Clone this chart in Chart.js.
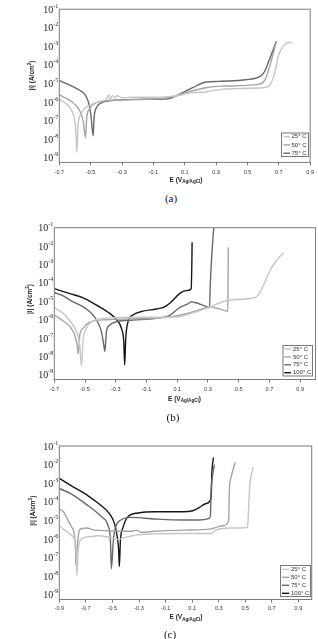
<!DOCTYPE html>
<html><head><meta charset="utf-8">
<script src="https://cdn.jsdelivr.net/npm/chart.js@4/dist/chart.umd.min.js"></script>
<style>
html,body{margin:0;padding:0;background:#fff}
body{width:318px;height:639px;overflow:hidden;position:relative}
canvas{position:absolute;left:0}
.cap{position:absolute;font-family:"Liberation Serif","Times New Roman",serif;font-size:11px;line-height:12px;color:#111;width:40px;text-align:center}
</style></head><body>
<canvas id="ca" width="318" height="192" style="top:0px;width:318px;height:192px"></canvas>
<canvas id="cb" width="318" height="192" style="top:215px;width:318px;height:192px"></canvas>
<canvas id="cc" width="318" height="195" style="top:430px;width:318px;height:195px"></canvas>
<div class="cap" style="left:151px;top:192px">(a)</div>
<div class="cap" style="left:153px;top:411px">(b)</div>
<div class="cap" style="left:150px;top:628px">(c)</div>
<script>
// ---------- DATA ----------
const tempLabels3 = ['25° C', '50° C', '75° C'];
const tempLabels4 = ['25° C', '50° C', '75° C', '100° C'];
const xTicksAB = [-0.7, -0.5, -0.3, -0.1, 0.1, 0.3, 0.5, 0.7, 0.9];
const xTicksC = [-0.9, -0.7, -0.5, -0.3, -0.1, 0.1, 0.3, 0.5, 0.7, 0.9];
const yTicks = [1e-1, 1e-2, 1e-3, 1e-4, 1e-5, 1e-6, 1e-7, 1e-8, 1e-9];

// (a)
const a25E = [-0.700,-0.664,-0.632,-0.611,-0.596,-0.588,-0.580,-0.563,-0.537,-0.495,-0.432,-0.400,-0.385,-0.375,-0.360,-0.345,-0.330,-0.300,-0.231,-0.104,-0.009,0.065,0.150,0.234,0.340,0.467,0.594,0.636,0.668,0.699,0.731,0.763,0.784];
const a25I = [1.45e-6,9.1e-7,5.0e-7,2.2e-7,4.2e-8,1.9e-9,6.3e-8,2.2e-7,4.6e-7,7.5e-7,1.1e-6,1.4e-6,2.4e-6,1.5e-6,2.3e-6,1.6e-6,2.2e-6,1.7e-6,1.8e-6,1.8e-6,1.95e-6,2.3e-6,3.2e-6,3.5e-6,4.8e-6,5.4e-6,5.9e-6,7.2e-6,2.5e-5,3.5e-4,1.1e-3,1.6e-3,1.6e-3];
const a50E = [-0.700,-0.643,-0.601,-0.569,-0.548,-0.533,-0.525,-0.510,-0.484,-0.432,-0.305,-0.093,0.023,0.107,0.234,0.340,0.572,0.610,0.632,0.657,0.682];
const a50I = [2.4e-6,1.4e-6,7.5e-7,3.3e-7,9.6e-8,1.2e-8,1.45e-7,4.0e-7,7.5e-7,1.1e-6,1.3e-6,1.45e-6,1.9e-6,3.2e-6,5.9e-6,7.2e-6,8.9e-6,1.45e-5,4.6e-5,2.4e-4,1.6e-3];
const a75E = [-0.700,-0.643,-0.580,-0.537,-0.516,-0.499,-0.484,-0.478,-0.463,-0.432,-0.368,-0.199,-0.009,0.065,0.150,0.234,0.319,0.488,0.572,0.604,0.636,0.684];
const a75I = [1.45e-5,8.9e-6,4.8e-6,2.6e-6,1.1e-6,2.2e-7,1.5e-8,1.45e-7,5.0e-7,9.1e-7,1.2e-6,1.4e-6,1.5e-6,2.6e-6,5.9e-6,1.2e-5,1.3e-5,1.6e-5,2.2e-5,3.7e-5,1.6e-4,1.9e-3];

// (b)
const b25E = [-0.700,-0.642,-0.598,-0.555,-0.534,-0.523,-0.512,-0.501,-0.469,-0.404,-0.296,-0.079,0.104,0.191,0.299,0.407,0.515,0.612,0.634,0.666,0.699,0.731,0.764,0.792];
const b25I = [4.5e-6,2.2e-6,8.5e-7,2.2e-7,4.3e-8,2.9e-9,9.8e-8,2.2e-7,6.3e-7,1.1e-6,1.3e-6,1.35e-6,1.45e-6,2.2e-6,4.4e-6,1.0e-5,1.3e-5,1.7e-5,2.6e-5,9.1e-5,3.9e-4,1.1e-3,2.5e-3,4.3e-3];
const b50E = [-0.700,-0.642,-0.598,-0.566,-0.551,-0.544,-0.534,-0.512,-0.469,-0.361,-0.188,-0.036,0.072,0.158,0.245,0.310,0.375,0.429,0.431,0.433,0.437];
const b50I = [1.8e-6,8.5e-7,4.2e-7,1.4e-7,4.2e-8,1.35e-8,1.5e-7,3.5e-7,7.4e-7,1.0e-6,1.1e-6,1.2e-6,1.5e-6,2.1e-6,3.5e-6,5.0e-6,3.9e-6,2.9e-6,1.2e-4,7.1e-3,8.3e-3];
const b75E = [-0.700,-0.642,-0.577,-0.523,-0.469,-0.425,-0.393,-0.378,-0.371,-0.361,-0.339,-0.296,-0.188,-0.036,0.050,0.115,0.169,0.191,0.223,0.277,0.310,0.316,0.325,0.338,0.340];
const b75I = [3.0e-5,1.95e-5,9.3e-6,5.7e-6,2.7e-6,9.6e-7,2.2e-7,4.3e-8,1.9e-8,2.2e-7,5.1e-7,7.8e-7,9.6e-7,1.2e-6,1.7e-6,4.5e-6,7.3e-6,9.3e-6,8.3e-6,5.7e-6,4.5e-6,1.2e-4,3.1e-3,8.5e-2,1e-1];
const b100E = [-0.700,-0.598,-0.512,-0.425,-0.339,-0.296,-0.263,-0.248,-0.242,-0.235,-0.220,-0.188,-0.123,-0.036,0.018,0.061,0.115,0.158,0.191,0.195,0.197];
const b100I = [4.9e-5,2.6e-5,1.55e-5,6.2e-6,2.2e-6,1.05e-6,3.4e-7,6.5e-8,3.5e-9,9.8e-8,7.8e-7,1.8e-6,2.9e-6,3.8e-6,5.0e-6,9.3e-6,2.6e-5,3.8e-5,4.7e-5,9.3e-4,1.6e-2];

// (c)
const c25E = [-0.900,-0.858,-0.820,-0.795,-0.778,-0.770,-0.768,-0.758,-0.733,-0.683,-0.608,-0.520,-0.458,-0.408,-0.308,-0.183,0.030,0.243,0.280,0.380,0.518,0.525,0.535,0.560];
const c25I = [5.2e-6,3.0e-6,1.9e-6,1.25e-6,6.6e-7,6.9e-8,1.1e-8,2.4e-7,1.0e-6,1.3e-6,1.5e-6,1.2e-6,9.5e-7,1.2e-6,1.7e-6,1.9e-6,2.0e-6,2.0e-6,3.0e-6,3.9e-6,4.2e-6,5.0e-5,8.9e-4,6.9e-3];
const c50E = [-0.900,-0.870,-0.833,-0.808,-0.788,-0.778,-0.775,-0.763,-0.753,-0.733,-0.695,-0.633,-0.533,-0.433,-0.358,-0.320,-0.283,-0.183,0.030,0.243,0.280,0.330,0.375,0.380,0.393,0.423];
const c50I = [4.0e-5,3.0e-5,9.6e-6,4.6e-6,1.9e-6,2.4e-7,3.7e-8,5.4e-7,2.3e-6,3.7e-6,3.9e-6,3.0e-6,2.8e-6,2.6e-6,2.6e-6,3.0e-6,2.3e-6,2.6e-6,3.0e-6,3.5e-6,4.2e-6,5.2e-6,9.6e-6,3.9e-4,2.0e-3,1.3e-2];
const c75E = [-0.900,-0.808,-0.683,-0.583,-0.533,-0.515,-0.508,-0.495,-0.483,-0.445,-0.358,-0.183,0.030,0.155,0.230,0.238,0.243,0.255,0.268];
const c75I = [5.2e-4,2.6e-4,6.1e-5,1.6e-5,5.2e-6,8.1e-7,2.5e-8,5.4e-7,2.8e-6,9.6e-6,1.45e-5,1.2e-5,1.05e-5,1.05e-5,1.3e-5,2.2e-5,3.9e-4,3.0e-3,1.0e-2];
const c100E = [-0.900,-0.808,-0.683,-0.583,-0.520,-0.483,-0.463,-0.453,-0.448,-0.440,-0.420,-0.383,-0.308,-0.183,0.030,0.105,0.155,0.205,0.243,0.248,0.260];
const c100I = [1.8e-3,7.2e-4,2.1e-4,6.1e-5,2.2e-5,6.3e-6,1.2e-6,2.4e-7,3.3e-8,8.1e-7,4.2e-6,1.6e-5,2.5e-5,2.9e-5,2.9e-5,3.3e-5,5.0e-5,8.1e-5,1.6e-4,3.0e-3,2.4e-2];

// ---------- STYLE ----------
const COLORS = ['#c6c6c6', '#a4a4a4', '#686868', '#161616'];
const LOG_MIN = Math.pow(10, -9.25);

function series(E, I) { return E.map((e, k) => ({ x: e, y: I[k] })); }

const deco = {
  id: 'deco',
  beforeDraw(chart) {
    const c = chart.ctx; c.save(); c.fillStyle = '#fff';
    c.fillRect(0, 0, chart.width, chart.height); c.restore();
  },
  afterDraw(chart, args, o) {
    const ctx = chart.ctx, a = chart.chartArea;
    ctx.save();
    // frame
    ctx.strokeStyle = '#7c7c7c'; ctx.lineWidth = 1;
    ctx.strokeRect(a.left, a.top, a.right - a.left, a.bottom - a.top);
    // y tick labels 10^n
    const ys = chart.scales.y;
    ctx.fillStyle = '#222'; ctx.textBaseline = 'alphabetic'; ctx.textAlign = 'left';
    ys.ticks.forEach(t => {
      const py = ys.getPixelForValue(t.value);
      const exp = String(Math.round(Math.log10(t.value)));
      ctx.font = '6px "Liberation Serif", serif';
      const ew = ctx.measureText(exp).width;
      ctx.font = '10px "Liberation Serif", serif';
      const bw = ctx.measureText('10').width;
      const right = a.left - 1;
      ctx.fillText('10', right - ew - bw, py + 3.5);
      ctx.font = '6px "Liberation Serif", serif';
      ctx.fillText(exp, right - ew, py - 1.5);
    });
    // legend box
    const L = o.legend;
    ctx.fillStyle = '#fff'; ctx.fillRect(L.x, L.y, L.w, L.h);
    ctx.strokeStyle = '#777'; ctx.lineWidth = 1;
    ctx.strokeRect(L.x + 0.5, L.y + 0.5, L.w - 1, L.h - 1);
    ctx.font = '6px "Liberation Sans", Arial, sans-serif';
    ctx.textBaseline = 'middle'; ctx.textAlign = 'left';
    chart.data.datasets.forEach((ds, k) => {
      const ry = L.rows[k];
      ctx.strokeStyle = ds.borderColor; ctx.lineWidth = 1.4;
      ctx.beginPath(); ctx.moveTo(L.lx0, ry); ctx.lineTo(L.lx1, ry); ctx.stroke();
      ctx.fillStyle = '#333'; ctx.fillText(ds.label, L.tx, ry);
    });
    // x title: E (V Ag/AgCl)
    ctx.fillStyle = '#222'; ctx.textBaseline = 'alphabetic';
    const big = 'bold 6.5px "Liberation Sans", Arial, sans-serif';
    const small = 'bold 4.6px "Liberation Sans", Arial, sans-serif';
    ctx.font = big; const w1 = ctx.measureText('E (V').width, w3 = ctx.measureText(')').width;
    ctx.font = small; const w2 = ctx.measureText('Ag/AgCl').width;
    let x0 = o.xTitle.cx - (w1 + w2 + w3) / 2; const by = o.xTitle.cy + 2.3;
    ctx.font = big; ctx.fillText('E (V', x0, by);
    ctx.font = small; ctx.fillText('Ag/AgCl', x0 + w1, by + 1.6);
    ctx.font = big; ctx.fillText(')', x0 + w1 + w2, by);
    // y title: |i| (A/cm2)
    ctx.save();
    ctx.translate(o.yTitle.cx, o.yTitle.cy); ctx.rotate(-Math.PI / 2);
    ctx.font = big; const v1 = ctx.measureText('|i| (A/cm').width, v3 = ctx.measureText(')').width;
    ctx.font = small; const v2 = ctx.measureText('2').width;
    const s0 = -(v1 + v2 + v3) / 2;
    ctx.font = big; ctx.fillText('|i| (A/cm', s0, 2.3);
    ctx.font = small; ctx.fillText('2', s0 + v1, -0.6);
    ctx.font = big; ctx.fillText(')', s0 + v1 + v2, 2.3);
    ctx.restore();
    ctx.restore();
  }
};

function makeChart(id, sets, labels, xMin, xMax, xTicks, geo) {
  const H = document.getElementById(id).height;
  return new Chart(document.getElementById(id), {
    type: 'line',
    data: {
      datasets: sets.map((s, k) => ({
        label: labels[k], data: series(s[0], s[1]),
        borderColor: COLORS[k], borderWidth: 1.4, pointRadius: 0, fill: false,
        cubicInterpolationMode: 'monotone'
      }))
    },
    options: {
      responsive: false, animation: false, events: [], devicePixelRatio: 1,
      layout: { padding: { top: geo.t, right: 318 - geo.r, left: 0, bottom: 0 } },
      plugins: { legend: { display: false }, tooltip: { enabled: false }, deco: geo },
      scales: {
        x: {
          type: 'linear', min: xMin, max: xMax,
          afterBuildTicks: s => { s.ticks = xTicks.map(v => ({ value: v })); },
          afterFit: s => { s.height = H - geo.b; },
          grid: { drawOnChartArea: false, drawTicks: true, tickLength: 3, color: '#777' },
          border: { display: false },
          ticks: { autoSkip: false, maxRotation: 0, padding: geo.xpad, color: '#333',
                   font: { family: '"Liberation Sans", Arial, sans-serif', size: 5.5 },
                   callback: v => v.toFixed(1) }
        },
        y: {
          type: 'logarithmic', min: LOG_MIN, max: 1e-1,
          afterBuildTicks: s => { s.ticks = yTicks.map(v => ({ value: v })); },
          afterFit: s => { s.width = geo.l; },
          grid: { display: false }, border: { display: false },
          ticks: { display: false }
        }
      }
    },
    plugins: [deco]
  });
}

makeChart('ca', [[a25E, a25I], [a50E, a50I], [a75E, a75I]], tempLabels3, -0.7, 0.9, xTicksAB, {
  l: 59.3, r: 311.7, t: 9.2, b: 162.4, xpad: 4,
  legend: { x: 281, y: 132.5, w: 28, h: 24.5, rows: [136.6, 144.9, 153.2], lx0: 283.5, lx1: 290, tx: 291.5 },
  xTitle: { cx: 186, cy: 179.5 }, yTitle: { cx: 31.7, cy: 75.5 }
});
makeChart('cb', [[b25E, b25I], [b50E, b50I], [b75E, b75I], [b100E, b100I]], tempLabels4, -0.7, 1.0, xTicksAB, {
  l: 54.3, r: 315.5, t: 12.7, b: 164.5, xpad: 4,
  legend: { x: 282.5, y: 130, w: 30.5, h: 31.5, rows: [134, 141.9, 149.8, 157.7], lx0: 284.3, lx1: 291, tx: 293 },
  xTitle: { cx: 184.5, cy: 183.3 }, yTitle: { cx: 29.3, cy: 84 }
});
makeChart('cc', [[c25E, c25I], [c50E, c50I], [c75E, c75I], [c100E, c100I]], tempLabels4, -0.9, 1.0, xTicksC, {
  l: 59.3, r: 311.7, t: 16, b: 169.5, xpad: 2.5,
  legend: { x: 280, y: 135, w: 31, h: 32, rows: [139.3, 147.3, 155.3, 163.3], lx0: 282, lx1: 289.3, tx: 291 },
  xTitle: { cx: 186, cy: 186.7 }, yTitle: { cx: 32.3, cy: 80.7 }
});
</script>
</body></html>
